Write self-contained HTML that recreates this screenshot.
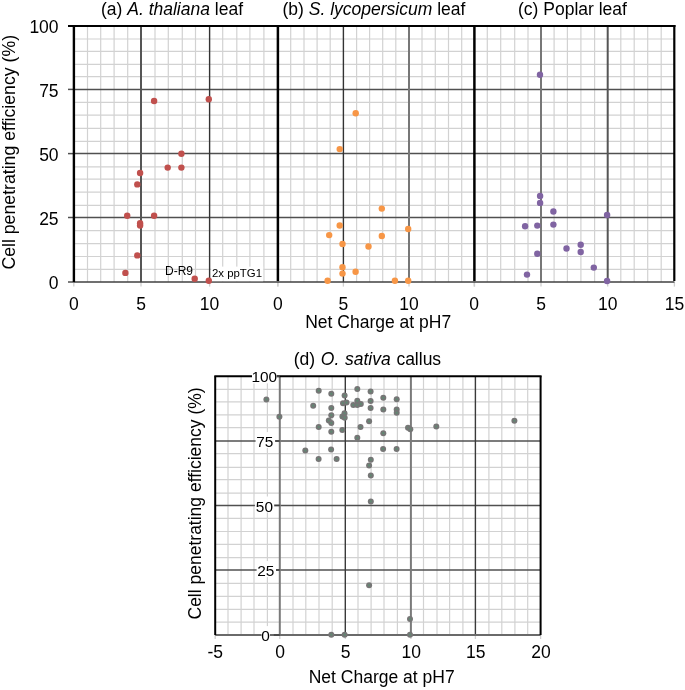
<!DOCTYPE html>
<html><head><meta charset="utf-8"><style>
html,body{margin:0;padding:0;background:#fff;}
body{width:685px;height:690px;overflow:hidden;}
svg{display:block;font-family:'Liberation Sans', sans-serif;filter:blur(0.35px);}
text{fill:#000;}
</style></head><body>
<svg width="685" height="690" viewBox="0 0 685 690">
<rect width="685" height="690" fill="#fff"/>
<line x1="87.50" y1="26.00" x2="87.50" y2="282.00" stroke="#d2d2d2" stroke-width="1.2"/>
<line x1="100.70" y1="26.00" x2="100.70" y2="282.00" stroke="#d2d2d2" stroke-width="1.2"/>
<line x1="114.10" y1="26.00" x2="114.10" y2="282.00" stroke="#d2d2d2" stroke-width="1.2"/>
<line x1="127.70" y1="26.00" x2="127.70" y2="282.00" stroke="#d2d2d2" stroke-width="1.2"/>
<line x1="155.00" y1="26.00" x2="155.00" y2="282.00" stroke="#d2d2d2" stroke-width="1.2"/>
<line x1="168.30" y1="26.00" x2="168.30" y2="282.00" stroke="#d2d2d2" stroke-width="1.2"/>
<line x1="182.30" y1="26.00" x2="182.30" y2="282.00" stroke="#d2d2d2" stroke-width="1.2"/>
<line x1="195.50" y1="26.00" x2="195.50" y2="282.00" stroke="#d2d2d2" stroke-width="1.2"/>
<line x1="222.70" y1="26.00" x2="222.70" y2="282.00" stroke="#d2d2d2" stroke-width="1.2"/>
<line x1="236.80" y1="26.00" x2="236.80" y2="282.00" stroke="#d2d2d2" stroke-width="1.2"/>
<line x1="249.90" y1="26.00" x2="249.90" y2="282.00" stroke="#d2d2d2" stroke-width="1.2"/>
<line x1="263.90" y1="26.00" x2="263.90" y2="282.00" stroke="#d2d2d2" stroke-width="1.2"/>
<line x1="73.80" y1="269.30" x2="277.80" y2="269.30" stroke="#d2d2d2" stroke-width="1.2"/>
<line x1="73.80" y1="256.50" x2="277.80" y2="256.50" stroke="#d2d2d2" stroke-width="1.2"/>
<line x1="73.80" y1="243.70" x2="277.80" y2="243.70" stroke="#d2d2d2" stroke-width="1.2"/>
<line x1="73.80" y1="230.60" x2="277.80" y2="230.60" stroke="#d2d2d2" stroke-width="1.2"/>
<line x1="73.80" y1="205.40" x2="277.80" y2="205.40" stroke="#d2d2d2" stroke-width="1.2"/>
<line x1="73.80" y1="192.20" x2="277.80" y2="192.20" stroke="#d2d2d2" stroke-width="1.2"/>
<line x1="73.80" y1="179.10" x2="277.80" y2="179.10" stroke="#d2d2d2" stroke-width="1.2"/>
<line x1="73.80" y1="166.80" x2="277.80" y2="166.80" stroke="#d2d2d2" stroke-width="1.2"/>
<line x1="73.80" y1="141.30" x2="277.80" y2="141.30" stroke="#d2d2d2" stroke-width="1.2"/>
<line x1="73.80" y1="128.30" x2="277.80" y2="128.30" stroke="#d2d2d2" stroke-width="1.2"/>
<line x1="73.80" y1="115.10" x2="277.80" y2="115.10" stroke="#d2d2d2" stroke-width="1.2"/>
<line x1="73.80" y1="102.40" x2="277.80" y2="102.40" stroke="#d2d2d2" stroke-width="1.2"/>
<line x1="73.80" y1="76.70" x2="277.80" y2="76.70" stroke="#d2d2d2" stroke-width="1.2"/>
<line x1="73.80" y1="64.30" x2="277.80" y2="64.30" stroke="#d2d2d2" stroke-width="1.2"/>
<line x1="73.80" y1="51.30" x2="277.80" y2="51.30" stroke="#d2d2d2" stroke-width="1.2"/>
<line x1="73.80" y1="39.00" x2="277.80" y2="39.00" stroke="#d2d2d2" stroke-width="1.2"/>
<line x1="290.70" y1="26.00" x2="290.70" y2="282.00" stroke="#d2d2d2" stroke-width="1.2"/>
<line x1="304.00" y1="26.00" x2="304.00" y2="282.00" stroke="#d2d2d2" stroke-width="1.2"/>
<line x1="317.10" y1="26.00" x2="317.10" y2="282.00" stroke="#d2d2d2" stroke-width="1.2"/>
<line x1="330.20" y1="26.00" x2="330.20" y2="282.00" stroke="#d2d2d2" stroke-width="1.2"/>
<line x1="356.60" y1="26.00" x2="356.60" y2="282.00" stroke="#d2d2d2" stroke-width="1.2"/>
<line x1="369.60" y1="26.00" x2="369.60" y2="282.00" stroke="#d2d2d2" stroke-width="1.2"/>
<line x1="382.70" y1="26.00" x2="382.70" y2="282.00" stroke="#d2d2d2" stroke-width="1.2"/>
<line x1="395.80" y1="26.00" x2="395.80" y2="282.00" stroke="#d2d2d2" stroke-width="1.2"/>
<line x1="422.00" y1="26.00" x2="422.00" y2="282.00" stroke="#d2d2d2" stroke-width="1.2"/>
<line x1="435.30" y1="26.00" x2="435.30" y2="282.00" stroke="#d2d2d2" stroke-width="1.2"/>
<line x1="448.50" y1="26.00" x2="448.50" y2="282.00" stroke="#d2d2d2" stroke-width="1.2"/>
<line x1="461.70" y1="26.00" x2="461.70" y2="282.00" stroke="#d2d2d2" stroke-width="1.2"/>
<line x1="277.90" y1="269.30" x2="474.50" y2="269.30" stroke="#d2d2d2" stroke-width="1.2"/>
<line x1="277.90" y1="256.50" x2="474.50" y2="256.50" stroke="#d2d2d2" stroke-width="1.2"/>
<line x1="277.90" y1="243.70" x2="474.50" y2="243.70" stroke="#d2d2d2" stroke-width="1.2"/>
<line x1="277.90" y1="230.60" x2="474.50" y2="230.60" stroke="#d2d2d2" stroke-width="1.2"/>
<line x1="277.90" y1="205.40" x2="474.50" y2="205.40" stroke="#d2d2d2" stroke-width="1.2"/>
<line x1="277.90" y1="192.20" x2="474.50" y2="192.20" stroke="#d2d2d2" stroke-width="1.2"/>
<line x1="277.90" y1="179.10" x2="474.50" y2="179.10" stroke="#d2d2d2" stroke-width="1.2"/>
<line x1="277.90" y1="166.80" x2="474.50" y2="166.80" stroke="#d2d2d2" stroke-width="1.2"/>
<line x1="277.90" y1="141.30" x2="474.50" y2="141.30" stroke="#d2d2d2" stroke-width="1.2"/>
<line x1="277.90" y1="128.30" x2="474.50" y2="128.30" stroke="#d2d2d2" stroke-width="1.2"/>
<line x1="277.90" y1="115.10" x2="474.50" y2="115.10" stroke="#d2d2d2" stroke-width="1.2"/>
<line x1="277.90" y1="102.40" x2="474.50" y2="102.40" stroke="#d2d2d2" stroke-width="1.2"/>
<line x1="277.90" y1="76.70" x2="474.50" y2="76.70" stroke="#d2d2d2" stroke-width="1.2"/>
<line x1="277.90" y1="64.30" x2="474.50" y2="64.30" stroke="#d2d2d2" stroke-width="1.2"/>
<line x1="277.90" y1="51.30" x2="474.50" y2="51.30" stroke="#d2d2d2" stroke-width="1.2"/>
<line x1="277.90" y1="39.00" x2="474.50" y2="39.00" stroke="#d2d2d2" stroke-width="1.2"/>
<line x1="487.30" y1="26.00" x2="487.30" y2="282.00" stroke="#d2d2d2" stroke-width="1.2"/>
<line x1="500.70" y1="26.00" x2="500.70" y2="282.00" stroke="#d2d2d2" stroke-width="1.2"/>
<line x1="514.70" y1="26.00" x2="514.70" y2="282.00" stroke="#d2d2d2" stroke-width="1.2"/>
<line x1="528.00" y1="26.00" x2="528.00" y2="282.00" stroke="#d2d2d2" stroke-width="1.2"/>
<line x1="554.10" y1="26.00" x2="554.10" y2="282.00" stroke="#d2d2d2" stroke-width="1.2"/>
<line x1="567.40" y1="26.00" x2="567.40" y2="282.00" stroke="#d2d2d2" stroke-width="1.2"/>
<line x1="580.90" y1="26.00" x2="580.90" y2="282.00" stroke="#d2d2d2" stroke-width="1.2"/>
<line x1="594.60" y1="26.00" x2="594.60" y2="282.00" stroke="#d2d2d2" stroke-width="1.2"/>
<line x1="620.80" y1="26.00" x2="620.80" y2="282.00" stroke="#d2d2d2" stroke-width="1.2"/>
<line x1="634.20" y1="26.00" x2="634.20" y2="282.00" stroke="#d2d2d2" stroke-width="1.2"/>
<line x1="647.70" y1="26.00" x2="647.70" y2="282.00" stroke="#d2d2d2" stroke-width="1.2"/>
<line x1="661.20" y1="26.00" x2="661.20" y2="282.00" stroke="#d2d2d2" stroke-width="1.2"/>
<line x1="474.20" y1="269.30" x2="674.40" y2="269.30" stroke="#d2d2d2" stroke-width="1.2"/>
<line x1="474.20" y1="256.50" x2="674.40" y2="256.50" stroke="#d2d2d2" stroke-width="1.2"/>
<line x1="474.20" y1="243.70" x2="674.40" y2="243.70" stroke="#d2d2d2" stroke-width="1.2"/>
<line x1="474.20" y1="230.60" x2="674.40" y2="230.60" stroke="#d2d2d2" stroke-width="1.2"/>
<line x1="474.20" y1="205.40" x2="674.40" y2="205.40" stroke="#d2d2d2" stroke-width="1.2"/>
<line x1="474.20" y1="192.20" x2="674.40" y2="192.20" stroke="#d2d2d2" stroke-width="1.2"/>
<line x1="474.20" y1="179.10" x2="674.40" y2="179.10" stroke="#d2d2d2" stroke-width="1.2"/>
<line x1="474.20" y1="166.80" x2="674.40" y2="166.80" stroke="#d2d2d2" stroke-width="1.2"/>
<line x1="474.20" y1="141.30" x2="674.40" y2="141.30" stroke="#d2d2d2" stroke-width="1.2"/>
<line x1="474.20" y1="128.30" x2="674.40" y2="128.30" stroke="#d2d2d2" stroke-width="1.2"/>
<line x1="474.20" y1="115.10" x2="674.40" y2="115.10" stroke="#d2d2d2" stroke-width="1.2"/>
<line x1="474.20" y1="102.40" x2="674.40" y2="102.40" stroke="#d2d2d2" stroke-width="1.2"/>
<line x1="474.20" y1="76.70" x2="674.40" y2="76.70" stroke="#d2d2d2" stroke-width="1.2"/>
<line x1="474.20" y1="64.30" x2="674.40" y2="64.30" stroke="#d2d2d2" stroke-width="1.2"/>
<line x1="474.20" y1="51.30" x2="674.40" y2="51.30" stroke="#d2d2d2" stroke-width="1.2"/>
<line x1="474.20" y1="39.00" x2="674.40" y2="39.00" stroke="#d2d2d2" stroke-width="1.2"/>
<line x1="73.80" y1="217.50" x2="277.80" y2="217.50" stroke="#505050" stroke-width="1.5"/>
<line x1="73.80" y1="153.60" x2="277.80" y2="153.60" stroke="#505050" stroke-width="1.5"/>
<line x1="73.80" y1="89.40" x2="277.80" y2="89.40" stroke="#505050" stroke-width="1.5"/>
<line x1="277.90" y1="217.50" x2="474.50" y2="217.50" stroke="#505050" stroke-width="1.5"/>
<line x1="277.90" y1="153.60" x2="474.50" y2="153.60" stroke="#505050" stroke-width="1.5"/>
<line x1="277.90" y1="89.40" x2="474.50" y2="89.40" stroke="#505050" stroke-width="1.5"/>
<line x1="474.20" y1="217.50" x2="674.40" y2="217.50" stroke="#505050" stroke-width="1.5"/>
<line x1="474.20" y1="153.60" x2="674.40" y2="153.60" stroke="#505050" stroke-width="1.5"/>
<line x1="474.20" y1="89.40" x2="674.40" y2="89.40" stroke="#505050" stroke-width="1.5"/>
<line x1="141.00" y1="26.00" x2="141.00" y2="282.00" stroke="#555" stroke-width="2.0"/>
<line x1="209.60" y1="26.00" x2="209.60" y2="282.00" stroke="#333" stroke-width="1.4"/>
<line x1="343.40" y1="26.00" x2="343.40" y2="282.00" stroke="#333" stroke-width="1.4"/>
<line x1="409.00" y1="26.00" x2="409.00" y2="282.00" stroke="#777" stroke-width="2.0"/>
<line x1="541.00" y1="26.00" x2="541.00" y2="282.00" stroke="#777" stroke-width="2.0"/>
<line x1="607.70" y1="26.00" x2="607.70" y2="282.00" stroke="#555" stroke-width="2.0"/>
<line x1="73.80" y1="282.00" x2="73.80" y2="286.60" stroke="#cfcfcf" stroke-width="1.3"/>
<line x1="141.00" y1="282.00" x2="141.00" y2="286.60" stroke="#cfcfcf" stroke-width="1.3"/>
<line x1="209.60" y1="282.00" x2="209.60" y2="286.60" stroke="#cfcfcf" stroke-width="1.3"/>
<line x1="277.80" y1="282.00" x2="277.80" y2="286.60" stroke="#cfcfcf" stroke-width="1.3"/>
<line x1="277.90" y1="282.00" x2="277.90" y2="286.60" stroke="#cfcfcf" stroke-width="1.3"/>
<line x1="343.40" y1="282.00" x2="343.40" y2="286.60" stroke="#cfcfcf" stroke-width="1.3"/>
<line x1="409.00" y1="282.00" x2="409.00" y2="286.60" stroke="#cfcfcf" stroke-width="1.3"/>
<line x1="474.50" y1="282.00" x2="474.50" y2="286.60" stroke="#cfcfcf" stroke-width="1.3"/>
<line x1="474.20" y1="282.00" x2="474.20" y2="286.60" stroke="#cfcfcf" stroke-width="1.3"/>
<line x1="541.00" y1="282.00" x2="541.00" y2="286.60" stroke="#cfcfcf" stroke-width="1.3"/>
<line x1="607.70" y1="282.00" x2="607.70" y2="286.60" stroke="#cfcfcf" stroke-width="1.3"/>
<line x1="674.40" y1="282.00" x2="674.40" y2="286.60" stroke="#cfcfcf" stroke-width="1.3"/>
<line x1="68.00" y1="282.00" x2="73.80" y2="282.00" stroke="#505050" stroke-width="1.5"/>
<line x1="68.00" y1="217.50" x2="73.80" y2="217.50" stroke="#505050" stroke-width="1.5"/>
<line x1="68.00" y1="153.60" x2="73.80" y2="153.60" stroke="#505050" stroke-width="1.5"/>
<line x1="68.00" y1="89.40" x2="73.80" y2="89.40" stroke="#505050" stroke-width="1.5"/>
<line x1="68.00" y1="26.00" x2="73.80" y2="26.00" stroke="#505050" stroke-width="1.5"/>
<line x1="73.80" y1="282.00" x2="674.40" y2="282.00" stroke="#404040" stroke-width="1.7"/>
<line x1="68.00" y1="26.00" x2="675.50" y2="26.00" stroke="#000" stroke-width="1.8"/>
<line x1="73.90" y1="25.10" x2="73.90" y2="282.00" stroke="#000" stroke-width="2.4"/>
<line x1="277.90" y1="26.00" x2="277.90" y2="281.10" stroke="#000" stroke-width="2.5"/>
<line x1="474.40" y1="26.00" x2="474.40" y2="281.10" stroke="#000" stroke-width="2.5"/>
<line x1="674.30" y1="25.10" x2="674.30" y2="281.10" stroke="#000" stroke-width="2.2"/>
<rect x="211.2" y="266.6" width="52" height="14.6" fill="#fff"/>
<circle cx="154.10" cy="101.00" r="3.2" fill="#c0504d"/>
<circle cx="208.80" cy="99.20" r="3.2" fill="#c0504d"/>
<circle cx="181.40" cy="153.80" r="3.2" fill="#c0504d"/>
<circle cx="167.70" cy="167.60" r="3.2" fill="#c0504d"/>
<circle cx="181.40" cy="167.60" r="3.2" fill="#c0504d"/>
<circle cx="140.10" cy="173.00" r="3.2" fill="#c0504d"/>
<circle cx="137.30" cy="184.40" r="3.2" fill="#c0504d"/>
<circle cx="127.20" cy="215.70" r="3.2" fill="#c0504d"/>
<circle cx="154.10" cy="215.70" r="3.2" fill="#c0504d"/>
<circle cx="140.10" cy="223.20" r="3.2" fill="#c0504d"/>
<circle cx="140.10" cy="225.50" r="3.2" fill="#c0504d"/>
<circle cx="137.30" cy="255.40" r="3.2" fill="#c0504d"/>
<circle cx="125.40" cy="272.90" r="3.2" fill="#c0504d"/>
<circle cx="194.70" cy="278.80" r="3.2" fill="#c0504d"/>
<circle cx="208.80" cy="280.70" r="3.2" fill="#c0504d"/>
<circle cx="355.70" cy="113.20" r="3.2" fill="#f79646"/>
<circle cx="339.70" cy="149.10" r="3.2" fill="#f79646"/>
<circle cx="381.80" cy="208.60" r="3.2" fill="#f79646"/>
<circle cx="339.70" cy="225.50" r="3.2" fill="#f79646"/>
<circle cx="408.20" cy="229.00" r="3.2" fill="#f79646"/>
<circle cx="329.20" cy="235.10" r="3.2" fill="#f79646"/>
<circle cx="381.80" cy="236.00" r="3.2" fill="#f79646"/>
<circle cx="342.50" cy="244.00" r="3.2" fill="#f79646"/>
<circle cx="368.50" cy="246.50" r="3.2" fill="#f79646"/>
<circle cx="342.50" cy="267.30" r="3.2" fill="#f79646"/>
<circle cx="342.50" cy="273.60" r="3.2" fill="#f79646"/>
<circle cx="355.60" cy="271.80" r="3.2" fill="#f79646"/>
<circle cx="327.60" cy="280.70" r="3.2" fill="#f79646"/>
<circle cx="394.90" cy="280.70" r="3.2" fill="#f79646"/>
<circle cx="408.20" cy="280.70" r="3.2" fill="#f79646"/>
<circle cx="540.00" cy="74.80" r="3.2" fill="#8064a2"/>
<circle cx="540.10" cy="195.90" r="3.2" fill="#8064a2"/>
<circle cx="540.10" cy="202.90" r="3.2" fill="#8064a2"/>
<circle cx="553.40" cy="211.50" r="3.2" fill="#8064a2"/>
<circle cx="607.10" cy="215.00" r="3.2" fill="#8064a2"/>
<circle cx="525.10" cy="226.30" r="3.2" fill="#8064a2"/>
<circle cx="537.30" cy="225.60" r="3.2" fill="#8064a2"/>
<circle cx="553.40" cy="224.60" r="3.2" fill="#8064a2"/>
<circle cx="566.50" cy="248.50" r="3.2" fill="#8064a2"/>
<circle cx="580.70" cy="244.70" r="3.2" fill="#8064a2"/>
<circle cx="580.70" cy="252.00" r="3.2" fill="#8064a2"/>
<circle cx="537.30" cy="253.80" r="3.2" fill="#8064a2"/>
<circle cx="593.80" cy="267.60" r="3.2" fill="#8064a2"/>
<circle cx="527.00" cy="274.60" r="3.2" fill="#8064a2"/>
<circle cx="607.10" cy="281.00" r="3.2" fill="#8064a2"/>
<text x="165.00" y="274.90" font-size="12" text-anchor="start" >D-R9</text>
<text x="212.00" y="276.80" font-size="11.4" text-anchor="start" >2x ppTG1</text>
<text x="58.60" y="289.30" font-size="17.5" text-anchor="end" >0</text>
<text x="58.60" y="224.80" font-size="17.5" text-anchor="end" >25</text>
<text x="58.60" y="160.90" font-size="17.5" text-anchor="end" >50</text>
<text x="58.60" y="96.70" font-size="17.5" text-anchor="end" >75</text>
<text x="58.60" y="33.30" font-size="17.5" text-anchor="end" >100</text>
<text x="73.80" y="310.20" font-size="17.5" text-anchor="middle" >0</text>
<text x="141.00" y="310.20" font-size="17.5" text-anchor="middle" >5</text>
<text x="209.60" y="310.20" font-size="17.5" text-anchor="middle" >10</text>
<text x="277.90" y="310.20" font-size="17.5" text-anchor="middle" >0</text>
<text x="343.40" y="310.20" font-size="17.5" text-anchor="middle" >5</text>
<text x="409.00" y="310.20" font-size="17.5" text-anchor="middle" >10</text>
<text x="474.20" y="310.20" font-size="17.5" text-anchor="middle" >0</text>
<text x="541.00" y="310.20" font-size="17.5" text-anchor="middle" >5</text>
<text x="607.70" y="310.20" font-size="17.5" text-anchor="middle" >10</text>
<text x="674.40" y="310.20" font-size="17.5" text-anchor="middle" >15</text>
<text x="378.20" y="327.50" font-size="17.5" text-anchor="middle" >Net Charge at pH7</text>
<text x="101.00" y="14.70" font-size="17.5" text-anchor="start" >(a) <tspan font-style="italic">A. thaliana</tspan> leaf</text>
<text x="282.50" y="14.70" font-size="17.5" text-anchor="start" >(b) <tspan font-style="italic">S. lycopersicum</tspan> leaf</text>
<text x="518.00" y="14.70" font-size="17.5" text-anchor="start" >(c) Poplar leaf</text>
<text transform="translate(14.9,269.6) rotate(-90)" font-size="17.7">Cell penetrating efficiency (%)</text>
<line x1="228.00" y1="376.30" x2="228.00" y2="635.00" stroke="#d2d2d2" stroke-width="1.2"/>
<line x1="241.10" y1="376.30" x2="241.10" y2="635.00" stroke="#d2d2d2" stroke-width="1.2"/>
<line x1="254.00" y1="376.30" x2="254.00" y2="635.00" stroke="#d2d2d2" stroke-width="1.2"/>
<line x1="267.40" y1="376.30" x2="267.40" y2="635.00" stroke="#d2d2d2" stroke-width="1.2"/>
<line x1="293.00" y1="376.30" x2="293.00" y2="635.00" stroke="#d2d2d2" stroke-width="1.2"/>
<line x1="305.80" y1="376.30" x2="305.80" y2="635.00" stroke="#d2d2d2" stroke-width="1.2"/>
<line x1="319.00" y1="376.30" x2="319.00" y2="635.00" stroke="#d2d2d2" stroke-width="1.2"/>
<line x1="332.20" y1="376.30" x2="332.20" y2="635.00" stroke="#d2d2d2" stroke-width="1.2"/>
<line x1="358.00" y1="376.30" x2="358.00" y2="635.00" stroke="#d2d2d2" stroke-width="1.2"/>
<line x1="371.10" y1="376.30" x2="371.10" y2="635.00" stroke="#d2d2d2" stroke-width="1.2"/>
<line x1="384.00" y1="376.30" x2="384.00" y2="635.00" stroke="#d2d2d2" stroke-width="1.2"/>
<line x1="397.40" y1="376.30" x2="397.40" y2="635.00" stroke="#d2d2d2" stroke-width="1.2"/>
<line x1="423.50" y1="376.30" x2="423.50" y2="635.00" stroke="#d2d2d2" stroke-width="1.2"/>
<line x1="437.00" y1="376.30" x2="437.00" y2="635.00" stroke="#d2d2d2" stroke-width="1.2"/>
<line x1="449.60" y1="376.30" x2="449.60" y2="635.00" stroke="#d2d2d2" stroke-width="1.2"/>
<line x1="462.90" y1="376.30" x2="462.90" y2="635.00" stroke="#d2d2d2" stroke-width="1.2"/>
<line x1="488.90" y1="376.30" x2="488.90" y2="635.00" stroke="#d2d2d2" stroke-width="1.2"/>
<line x1="501.80" y1="376.30" x2="501.80" y2="635.00" stroke="#d2d2d2" stroke-width="1.2"/>
<line x1="514.90" y1="376.30" x2="514.90" y2="635.00" stroke="#d2d2d2" stroke-width="1.2"/>
<line x1="527.70" y1="376.30" x2="527.70" y2="635.00" stroke="#d2d2d2" stroke-width="1.2"/>
<line x1="215.20" y1="622.10" x2="540.60" y2="622.10" stroke="#d2d2d2" stroke-width="1.2"/>
<line x1="215.20" y1="609.30" x2="540.60" y2="609.30" stroke="#d2d2d2" stroke-width="1.2"/>
<line x1="215.20" y1="596.30" x2="540.60" y2="596.30" stroke="#d2d2d2" stroke-width="1.2"/>
<line x1="215.20" y1="583.30" x2="540.60" y2="583.30" stroke="#d2d2d2" stroke-width="1.2"/>
<line x1="215.20" y1="557.60" x2="540.60" y2="557.60" stroke="#d2d2d2" stroke-width="1.2"/>
<line x1="215.20" y1="544.30" x2="540.60" y2="544.30" stroke="#d2d2d2" stroke-width="1.2"/>
<line x1="215.20" y1="531.50" x2="540.60" y2="531.50" stroke="#d2d2d2" stroke-width="1.2"/>
<line x1="215.20" y1="518.30" x2="540.60" y2="518.30" stroke="#d2d2d2" stroke-width="1.2"/>
<line x1="215.20" y1="493.10" x2="540.60" y2="493.10" stroke="#d2d2d2" stroke-width="1.2"/>
<line x1="215.20" y1="479.70" x2="540.60" y2="479.70" stroke="#d2d2d2" stroke-width="1.2"/>
<line x1="215.20" y1="467.30" x2="540.60" y2="467.30" stroke="#d2d2d2" stroke-width="1.2"/>
<line x1="215.20" y1="453.70" x2="540.60" y2="453.70" stroke="#d2d2d2" stroke-width="1.2"/>
<line x1="215.20" y1="427.60" x2="540.60" y2="427.60" stroke="#d2d2d2" stroke-width="1.2"/>
<line x1="215.20" y1="414.80" x2="540.60" y2="414.80" stroke="#d2d2d2" stroke-width="1.2"/>
<line x1="215.20" y1="401.80" x2="540.60" y2="401.80" stroke="#d2d2d2" stroke-width="1.2"/>
<line x1="215.20" y1="389.30" x2="540.60" y2="389.30" stroke="#d2d2d2" stroke-width="1.2"/>
<line x1="215.20" y1="570.00" x2="540.60" y2="570.00" stroke="#505050" stroke-width="1.5"/>
<line x1="215.20" y1="505.40" x2="540.60" y2="505.40" stroke="#505050" stroke-width="1.5"/>
<line x1="215.20" y1="441.00" x2="540.60" y2="441.00" stroke="#505050" stroke-width="1.5"/>
<line x1="345.30" y1="376.30" x2="345.30" y2="635.00" stroke="#3a3a3a" stroke-width="1.4"/>
<line x1="475.40" y1="376.30" x2="475.40" y2="635.00" stroke="#3a3a3a" stroke-width="1.4"/>
<line x1="410.90" y1="376.30" x2="410.90" y2="635.00" stroke="#7a7a7a" stroke-width="2"/>
<line x1="215.20" y1="635.00" x2="215.20" y2="639.00" stroke="#cfcfcf" stroke-width="1.3"/>
<line x1="279.80" y1="635.00" x2="279.80" y2="639.00" stroke="#cfcfcf" stroke-width="1.3"/>
<line x1="345.30" y1="635.00" x2="345.30" y2="639.00" stroke="#cfcfcf" stroke-width="1.3"/>
<line x1="410.90" y1="635.00" x2="410.90" y2="639.00" stroke="#cfcfcf" stroke-width="1.3"/>
<line x1="475.40" y1="635.00" x2="475.40" y2="639.00" stroke="#cfcfcf" stroke-width="1.3"/>
<line x1="540.60" y1="635.00" x2="540.60" y2="639.00" stroke="#cfcfcf" stroke-width="1.3"/>
<line x1="279.80" y1="376.30" x2="279.80" y2="635.00" stroke="#7a7a7a" stroke-width="2"/>
<line x1="215.20" y1="635.00" x2="540.60" y2="635.00" stroke="#6a6a6a" stroke-width="1.8"/>
<line x1="214.30" y1="376.30" x2="541.60" y2="376.30" stroke="#000" stroke-width="2"/>
<line x1="215.20" y1="376.30" x2="215.20" y2="635.00" stroke="#000" stroke-width="2"/>
<line x1="540.60" y1="376.30" x2="540.60" y2="635.00" stroke="#000" stroke-width="2"/>
<line x1="273.80" y1="635.00" x2="279.80" y2="635.00" stroke="#404040" stroke-width="1.5"/>
<line x1="273.80" y1="570.00" x2="279.80" y2="570.00" stroke="#404040" stroke-width="1.5"/>
<line x1="273.80" y1="505.40" x2="279.80" y2="505.40" stroke="#404040" stroke-width="1.5"/>
<line x1="273.80" y1="441.00" x2="279.80" y2="441.00" stroke="#404040" stroke-width="1.5"/>
<line x1="273.80" y1="376.30" x2="279.80" y2="376.30" stroke="#404040" stroke-width="1.5"/>
<rect x="252.00" y="367.40" width="24.70" height="16.0" fill="#fff"/>
<text x="264.30" y="382.40" font-size="15.4" text-anchor="middle" >100</text>
<rect x="255.60" y="432.10" width="19.50" height="16.0" fill="#fff"/>
<text x="264.80" y="447.10" font-size="15.4" text-anchor="middle" >75</text>
<rect x="254.90" y="496.50" width="19.30" height="16.0" fill="#fff"/>
<text x="264.40" y="511.50" font-size="15.4" text-anchor="middle" >50</text>
<rect x="256.60" y="561.10" width="19.40" height="16.0" fill="#fff"/>
<text x="265.70" y="576.10" font-size="15.4" text-anchor="middle" >25</text>
<rect x="261.60" y="626.10" width="8.30" height="16.0" fill="#fff"/>
<text x="265.65" y="641.10" font-size="15.4" text-anchor="middle" >0</text>
<circle cx="266.40" cy="399.40" r="3.0" fill="#767676"/>
<circle cx="266.40" cy="399.40" r="1.1" fill="#5f8a72"/>
<circle cx="279.40" cy="416.80" r="3.0" fill="#767676"/>
<circle cx="279.40" cy="416.80" r="1.1" fill="#5f8a72"/>
<circle cx="318.70" cy="390.70" r="3.0" fill="#767676"/>
<circle cx="318.70" cy="390.70" r="1.1" fill="#5f8a72"/>
<circle cx="313.20" cy="405.70" r="3.0" fill="#767676"/>
<circle cx="313.20" cy="405.70" r="1.1" fill="#5f8a72"/>
<circle cx="318.70" cy="427.00" r="3.0" fill="#767676"/>
<circle cx="318.70" cy="427.00" r="1.1" fill="#5f8a72"/>
<circle cx="331.30" cy="393.80" r="3.0" fill="#767676"/>
<circle cx="331.30" cy="393.80" r="1.1" fill="#5f8a72"/>
<circle cx="331.30" cy="408.00" r="3.0" fill="#767676"/>
<circle cx="331.30" cy="408.00" r="1.1" fill="#5f8a72"/>
<circle cx="331.30" cy="415.20" r="3.0" fill="#767676"/>
<circle cx="331.30" cy="415.20" r="1.1" fill="#5f8a72"/>
<circle cx="328.80" cy="420.60" r="3.0" fill="#767676"/>
<circle cx="328.80" cy="420.60" r="1.1" fill="#5f8a72"/>
<circle cx="331.30" cy="423.10" r="3.0" fill="#767676"/>
<circle cx="331.30" cy="423.10" r="1.1" fill="#5f8a72"/>
<circle cx="331.30" cy="431.70" r="3.0" fill="#767676"/>
<circle cx="331.30" cy="431.70" r="1.1" fill="#5f8a72"/>
<circle cx="344.60" cy="395.60" r="3.0" fill="#767676"/>
<circle cx="344.60" cy="395.60" r="1.1" fill="#5f8a72"/>
<circle cx="343.00" cy="403.20" r="3.0" fill="#767676"/>
<circle cx="343.00" cy="403.20" r="1.1" fill="#5f8a72"/>
<circle cx="346.50" cy="402.60" r="3.0" fill="#767676"/>
<circle cx="346.50" cy="402.60" r="1.1" fill="#5f8a72"/>
<circle cx="344.50" cy="413.30" r="3.0" fill="#767676"/>
<circle cx="344.50" cy="413.30" r="1.1" fill="#5f8a72"/>
<circle cx="342.40" cy="416.60" r="3.0" fill="#767676"/>
<circle cx="342.40" cy="416.60" r="1.1" fill="#5f8a72"/>
<circle cx="344.70" cy="417.70" r="3.0" fill="#767676"/>
<circle cx="344.70" cy="417.70" r="1.1" fill="#5f8a72"/>
<circle cx="342.30" cy="430.10" r="3.0" fill="#767676"/>
<circle cx="342.30" cy="430.10" r="1.1" fill="#5f8a72"/>
<circle cx="357.30" cy="389.00" r="3.0" fill="#767676"/>
<circle cx="357.30" cy="389.00" r="1.1" fill="#5f8a72"/>
<circle cx="357.30" cy="400.80" r="3.0" fill="#767676"/>
<circle cx="357.30" cy="400.80" r="1.1" fill="#5f8a72"/>
<circle cx="353.30" cy="405.00" r="3.0" fill="#767676"/>
<circle cx="353.30" cy="405.00" r="1.1" fill="#5f8a72"/>
<circle cx="357.30" cy="405.00" r="3.0" fill="#767676"/>
<circle cx="357.30" cy="405.00" r="1.1" fill="#5f8a72"/>
<circle cx="360.80" cy="404.10" r="3.0" fill="#767676"/>
<circle cx="360.80" cy="404.10" r="1.1" fill="#5f8a72"/>
<circle cx="370.60" cy="391.40" r="3.0" fill="#767676"/>
<circle cx="370.60" cy="391.40" r="1.1" fill="#5f8a72"/>
<circle cx="370.60" cy="401.00" r="3.0" fill="#767676"/>
<circle cx="370.60" cy="401.00" r="1.1" fill="#5f8a72"/>
<circle cx="370.60" cy="408.00" r="3.0" fill="#767676"/>
<circle cx="370.60" cy="408.00" r="1.1" fill="#5f8a72"/>
<circle cx="383.30" cy="397.80" r="3.0" fill="#767676"/>
<circle cx="383.30" cy="397.80" r="1.1" fill="#5f8a72"/>
<circle cx="383.30" cy="409.60" r="3.0" fill="#767676"/>
<circle cx="383.30" cy="409.60" r="1.1" fill="#5f8a72"/>
<circle cx="396.70" cy="399.30" r="3.0" fill="#767676"/>
<circle cx="396.70" cy="399.30" r="1.1" fill="#5f8a72"/>
<circle cx="396.70" cy="409.60" r="3.0" fill="#767676"/>
<circle cx="396.70" cy="409.60" r="1.1" fill="#5f8a72"/>
<circle cx="396.70" cy="412.80" r="3.0" fill="#767676"/>
<circle cx="396.70" cy="412.80" r="1.1" fill="#5f8a72"/>
<circle cx="369.10" cy="421.30" r="3.0" fill="#767676"/>
<circle cx="369.10" cy="421.30" r="1.1" fill="#5f8a72"/>
<circle cx="360.50" cy="427.00" r="3.0" fill="#767676"/>
<circle cx="360.50" cy="427.00" r="1.1" fill="#5f8a72"/>
<circle cx="383.30" cy="433.20" r="3.0" fill="#767676"/>
<circle cx="383.30" cy="433.20" r="1.1" fill="#5f8a72"/>
<circle cx="357.30" cy="437.80" r="3.0" fill="#767676"/>
<circle cx="357.30" cy="437.80" r="1.1" fill="#5f8a72"/>
<circle cx="408.00" cy="427.70" r="3.0" fill="#767676"/>
<circle cx="408.00" cy="427.70" r="1.1" fill="#5f8a72"/>
<circle cx="410.30" cy="429.30" r="3.0" fill="#767676"/>
<circle cx="410.30" cy="429.30" r="1.1" fill="#5f8a72"/>
<circle cx="436.30" cy="426.50" r="3.0" fill="#767676"/>
<circle cx="436.30" cy="426.50" r="1.1" fill="#5f8a72"/>
<circle cx="514.40" cy="420.75" r="3.0" fill="#767676"/>
<circle cx="514.40" cy="420.75" r="1.1" fill="#5f8a72"/>
<circle cx="305.30" cy="450.60" r="3.0" fill="#767676"/>
<circle cx="305.30" cy="450.60" r="1.1" fill="#5f8a72"/>
<circle cx="318.60" cy="459.10" r="3.0" fill="#767676"/>
<circle cx="318.60" cy="459.10" r="1.1" fill="#5f8a72"/>
<circle cx="331.10" cy="449.60" r="3.0" fill="#767676"/>
<circle cx="331.10" cy="449.60" r="1.1" fill="#5f8a72"/>
<circle cx="336.60" cy="459.10" r="3.0" fill="#767676"/>
<circle cx="336.60" cy="459.10" r="1.1" fill="#5f8a72"/>
<circle cx="370.80" cy="459.70" r="3.0" fill="#767676"/>
<circle cx="370.80" cy="459.70" r="1.1" fill="#5f8a72"/>
<circle cx="369.10" cy="465.40" r="3.0" fill="#767676"/>
<circle cx="369.10" cy="465.40" r="1.1" fill="#5f8a72"/>
<circle cx="370.80" cy="475.40" r="3.0" fill="#767676"/>
<circle cx="370.80" cy="475.40" r="1.1" fill="#5f8a72"/>
<circle cx="370.80" cy="501.40" r="3.0" fill="#767676"/>
<circle cx="370.80" cy="501.40" r="1.1" fill="#5f8a72"/>
<circle cx="383.10" cy="448.90" r="3.0" fill="#767676"/>
<circle cx="383.10" cy="448.90" r="1.1" fill="#5f8a72"/>
<circle cx="396.60" cy="448.90" r="3.0" fill="#767676"/>
<circle cx="396.60" cy="448.90" r="1.1" fill="#5f8a72"/>
<circle cx="369.10" cy="585.30" r="3.0" fill="#767676"/>
<circle cx="369.10" cy="585.30" r="1.1" fill="#5f8a72"/>
<circle cx="410.00" cy="619.10" r="3.0" fill="#767676"/>
<circle cx="410.00" cy="619.10" r="1.1" fill="#5f8a72"/>
<circle cx="410.00" cy="634.70" r="3.0" fill="#767676"/>
<circle cx="410.00" cy="634.70" r="1.1" fill="#5f8a72"/>
<circle cx="344.60" cy="634.70" r="3.0" fill="#767676"/>
<circle cx="344.60" cy="634.70" r="1.1" fill="#5f8a72"/>
<circle cx="331.30" cy="634.70" r="3.0" fill="#767676"/>
<circle cx="331.30" cy="634.70" r="1.1" fill="#5f8a72"/>
<text x="215.20" y="658.40" font-size="17.5" text-anchor="middle" >-5</text>
<text x="280.10" y="658.40" font-size="17.5" text-anchor="middle" >0</text>
<text x="345.60" y="658.40" font-size="17.5" text-anchor="middle" >5</text>
<text x="411.20" y="658.40" font-size="17.5" text-anchor="middle" >10</text>
<text x="475.70" y="658.40" font-size="17.5" text-anchor="middle" >15</text>
<text x="540.90" y="658.40" font-size="17.5" text-anchor="middle" >20</text>
<text x="381.70" y="683.30" font-size="17.5" text-anchor="middle" >Net Charge at pH7</text>
<text x="293.80" y="365.20" font-size="17.5" text-anchor="start" word-spacing="0.8">(d) <tspan font-style="italic">O. sativa</tspan> callus</text>
<text transform="translate(201.1,619.5) rotate(-90)" font-size="17.5">Cell penetrating efficiency (%)</text>
</svg>
</body></html>
